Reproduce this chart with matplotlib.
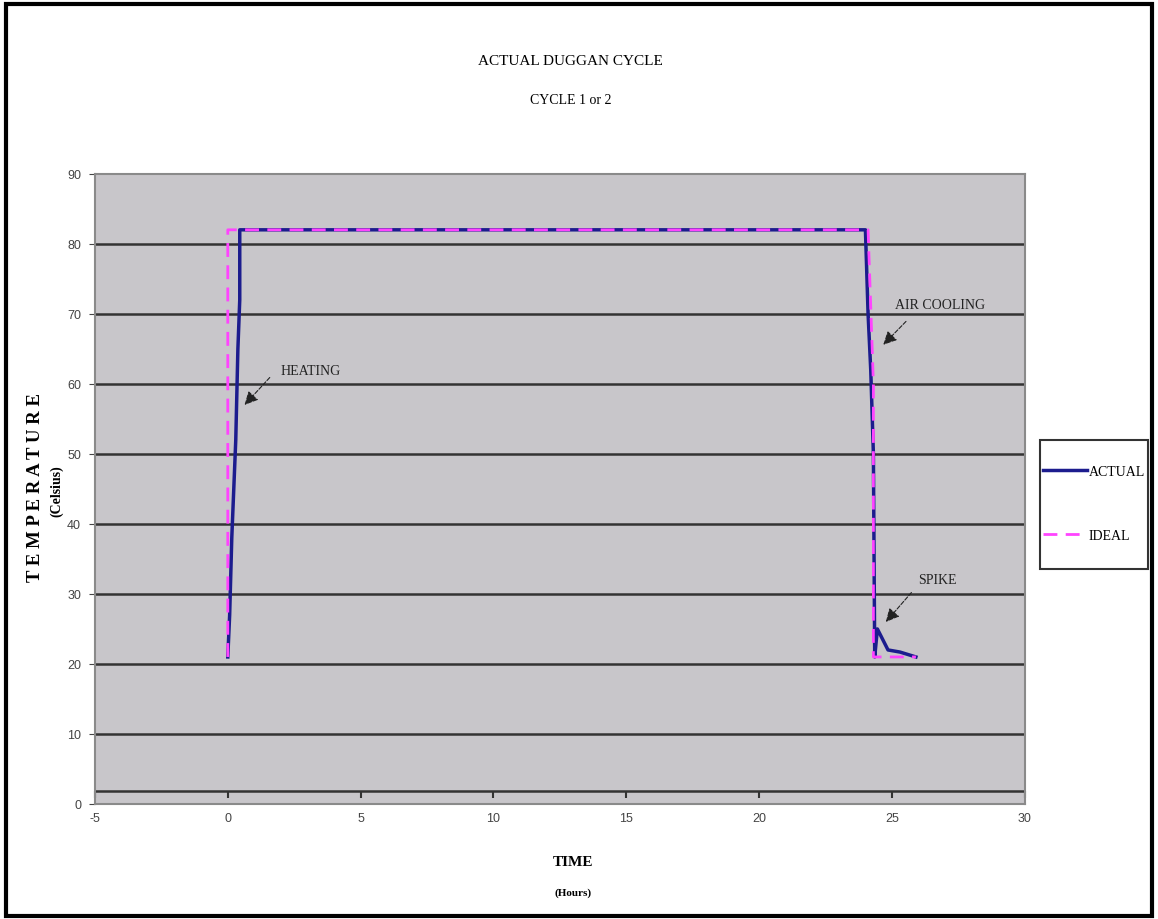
import matplotlib.pyplot as plt
from matplotlib.patches import Rectangle

plt.rcParams['axes.unicode_minus'] = False

# ideal cycle (hours, celsius)
ideal_t = [0, 0, 24.1, 24.3, 24.3, 25.9]
ideal_c = [21, 82, 82, 60, 21, 21]

# actual measured cycle
actual_t = [0, 0.07, 0.15, 0.3, 0.38, 0.45, 0.45, 24.0, 24.1, 24.2, 24.3, 24.35, 24.45, 24.85, 25.3, 25.9]
actual_c = [21, 27, 38, 52, 65, 72, 82, 82, 70, 62, 50, 21, 25, 22, 21.7, 21]

yticks = [0, 10, 20, 30, 40, 50, 60, 70, 80, 90]
xticks = [-5, 0, 5, 10, 15, 20, 25, 30]

serif = 'Liberation Serif'
sans = 'Liberation Sans'

fig = plt.figure(figsize=(11.58, 9.2), dpi=100)
ax = fig.add_axes([0.082, 0.125, 0.803, 0.685])
ax.set_facecolor('#c8c6ca')

ax.set_xlim(-5, 30)
ax.set_ylim(0, 90)
ax.set_yticks(yticks)
ax.set_xticks(xticks)

# horizontal gridlines
for v in yticks[1:-1]:
    ax.axhline(v, color='#333333', lw=1.8, zorder=1)

# x axis crosses a bit above zero, like the original sheet
xax_pos = 1.9
ax.axhline(xax_pos, color='#333333', lw=1.8, zorder=1)
sec = ax.secondary_xaxis(xax_pos / 90)
sec.set_xticks(xticks)
sec.tick_params(axis='x', direction='out', length=5, width=1.5, color='#333333', labelbottom=False)
sec.spines['bottom'].set_visible(False)

ax.plot(actual_t, actual_c, color='#1c1c8e', lw=2.5, label='ACTUAL', zorder=3)
ax.plot(ideal_t, ideal_c, color='#ff44ff', lw=2, ls=(0, (5, 3)), label='IDEAL', zorder=4)

for s in ax.spines.values():
    s.set_color('#8a8a8a')
    s.set_linewidth(1.5)

ax.tick_params(axis='x', length=0, labelsize=9, colors='#444444', pad=6)
ax.tick_params(axis='y', length=4, labelsize=9, colors='#444444', pad=6)
for lab in ax.get_xticklabels() + ax.get_yticklabels():
    lab.set_fontfamily(sans)

arrow = dict(arrowstyle='-|>', color='#222222', lw=0.8, ls='--', mutation_scale=20)
ax.annotate('', xy=(0.56, 56.7), xytext=(1.65, 61.2), arrowprops=arrow)
ax.text(2.0, 61.9, 'HEATING', family=serif, fontsize=10, va='center', color='#222222')
ax.annotate('', xy=(24.6, 65.3), xytext=(25.6, 69.2), arrowprops=arrow)
ax.text(25.1, 71.4, 'AIR COOLING', family=serif, fontsize=10, va='center', color='#222222')
ax.annotate('', xy=(24.7, 25.7), xytext=(25.8, 30.5), arrowprops=arrow)
ax.text(26.0, 32.1, 'SPIKE', family=serif, fontsize=10, va='center', color='#222222')

fig.text(0.493, 0.933, 'ACTUAL DUGGAN CYCLE', ha='center', va='center', family=serif, fontsize=11)
fig.text(0.493, 0.891, 'CYCLE 1 or 2', ha='center', va='center', family=serif, fontsize=10)

fig.text(0.495, 0.063, 'TIME', ha='center', va='center', family=serif, fontsize=11, weight='bold')
fig.text(0.495, 0.029, '(Hours)', ha='center', va='center', family=serif, fontsize=8, weight='bold')
fig.text(0.031, 0.47, 'T E M P E R A T U R E', ha='center', va='center', rotation=90,
         family=serif, fontsize=13.5, weight='bold')
fig.text(0.049, 0.466, '(Celsius)', ha='center', va='center', rotation=90,
         family=serif, fontsize=10, weight='bold')

# legend sits outside the plot, framed by a separate box
leg = ax.legend(loc='center left', bbox_to_anchor=(0.9007, 0.4516), bbox_transform=fig.transFigure,
                frameon=False, prop={'family': serif, 'size': 10}, handlelength=3.2,
                handletextpad=0.1, labelspacing=3.7, borderpad=0, borderaxespad=0)
fig.patches.append(Rectangle((0.898, 0.380), 0.093, 0.141, transform=fig.transFigure,
                             fill=False, lw=1.5, ec='#333333'))

# outer frame
fig.patches.append(Rectangle((0.005, 0.003), 0.99, 0.992, transform=fig.transFigure,
                             fill=False, lw=3, ec='black'))

fig.savefig('out.png', dpi=100)
